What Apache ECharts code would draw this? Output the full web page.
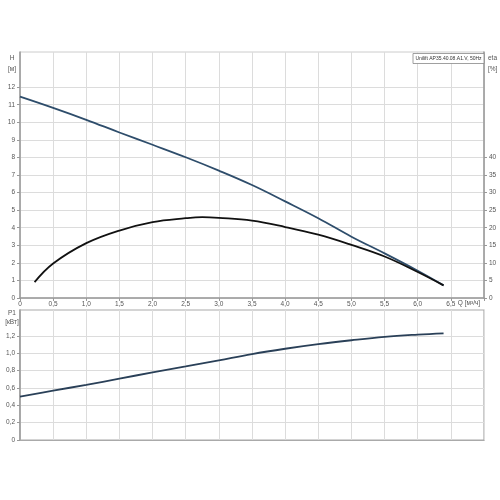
<!DOCTYPE html>
<html>
<head>
<meta charset="utf-8">
<script src="https://cdn.jsdelivr.net/npm/echarts@6/dist/echarts.min.js"></script>
<style>html,body{margin:0;padding:0;background:#fff}#c{width:500px;height:500px}</style>
</head>
<body>
<div id="c"></div>
<script>
// Q-H curve
var qH = [0, 0.5, 1.0, 1.5, 2.0, 2.5, 3.0, 3.5, 4.0, 4.5, 5.0, 5.5, 6.0, 6.39];
var hVals = [11.46, 10.82, 10.14, 9.42, 8.72, 8.01, 7.25, 6.43, 5.5, 4.54, 3.49, 2.54, 1.55, 0.72];
// efficiency curve
var qEta = [0.22, 0.5, 1.0, 1.5, 2.0, 2.5, 2.75, 3.0, 3.5, 4.0, 4.5, 5.0, 5.5, 6.0, 6.39];
var etaVals = [4.5, 9.8, 15.6, 19.2, 21.6, 22.7, 23.0, 22.8, 22.0, 20.2, 18.0, 15.1, 11.8, 7.4, 3.6];
// power curve
var qP = [0, 0.5, 1.0, 1.5, 2.0, 2.5, 3.0, 3.5, 4.0, 4.5, 5.0, 5.5, 6.0, 6.39];
var pVals = [0.50, 0.57, 0.636, 0.708, 0.78, 0.849, 0.92, 0.992, 1.053, 1.106, 1.151, 1.19, 1.216, 1.231];
// tick labels
var hTicks = [0, 1, 2, 3, 4, 5, 6, 7, 8, 9, 10, 11, 12];
var etaTicks = [0, 5, 10, 15, 20, 25, 30, 35, 40];
var pTicks = [0, 0.2, 0.4, 0.6, 0.8, 1.0, 1.2];
// texts
var titleText = 'Unilift AP35.40.08.A1.V, 50Hz';
var qLabel = 'Q [м³/ч]';
var hLabel = 'H\n[м]';
var etaLabel = 'eta\n[%]';
var pLabel = 'P1\n[кВт]';

function pairs(xs, ys){ return xs.map(function(x,i){ return [x, ys[i]]; }); }
function fmtComma(v){ return Math.abs(v) < 1e-9 ? '0' : v.toFixed(1).replace('.', ','); }

var FONT = 'Liberation Sans';
var lblColor = '#555';
var axisLineStyle = {color:'#999', width:1.5};
var gridLine = {show:true, lineStyle:{color:'#dcdcdc', width:1}};
var FS = 6.5;

var chart = echarts.init(document.getElementById('c'));
chart.setOption({
  animation:false,
  backgroundColor:'#fff',
  grid:[
    {left:20, right:16, top:52, height:246, show:true, borderColor:'#ccc', borderWidth:1},
    {left:20, right:16, top:310, height:130, show:true, borderColor:'#aaa', borderWidth:1.2}
  ],
  xAxis:[
    {gridIndex:0, type:'value', min:0, max:7, interval:0.5,
     axisLine:{show:true, onZero:false, lineStyle:axisLineStyle},
     axisTick:{show:true, length:3, lineStyle:{color:'#999'}},
     axisLabel:{fontSize:FS, color:lblColor, fontFamily:FONT, margin:3,
       formatter:function(v){ return v >= 7 ? '' : fmtComma(v); }},
     splitLine:gridLine},
    {gridIndex:1, type:'value', min:0, max:7, interval:0.5,
     axisLine:{show:true, onZero:false, lineStyle:{color:'#aaa', width:1.2}},
     axisTick:{show:false}, axisLabel:{show:false},
     splitLine:gridLine}
  ],
  yAxis:[
    {gridIndex:0, type:'value', min:0, max:14, interval:1,
     axisLine:{show:true, onZero:false, lineStyle:axisLineStyle},
     axisTick:{show:true, length:3, lineStyle:{color:'#999'}, customValues:hTicks},
     axisLabel:{fontSize:FS, color:lblColor, fontFamily:FONT, margin:5, customValues:hTicks,
       formatter:function(v){ return String(v); }},
     splitLine:gridLine},
    {gridIndex:0, type:'value', position:'right', min:0, max:70, interval:5,
     axisLine:{show:true, onZero:false, lineStyle:axisLineStyle},
     axisTick:{show:true, length:3, lineStyle:{color:'#999'}, customValues:etaTicks},
     axisLabel:{fontSize:FS, color:lblColor, fontFamily:FONT, margin:5, customValues:etaTicks,
       formatter:function(v){ return String(v); }},
     splitLine:{show:false}},
    {gridIndex:1, type:'value', min:0, max:1.5, interval:0.2,
     axisLine:{show:true, onZero:false, lineStyle:axisLineStyle},
     axisTick:{show:true, length:3, lineStyle:{color:'#999'}, customValues:pTicks},
     axisLabel:{fontSize:FS, color:lblColor, fontFamily:FONT, margin:5, customValues:pTicks,
       formatter:function(v){ return fmtComma(v); }},
     splitLine:gridLine}
  ],
  series:[
    {type:'line', xAxisIndex:0, yAxisIndex:0, data:pairs(qH, hVals), smooth:0.4,
     showSymbol:false, lineStyle:{color:'#2e4d6b', width:1.8}},
    {type:'line', xAxisIndex:0, yAxisIndex:1, data:pairs(qEta, etaVals), smooth:0.4,
     showSymbol:false, lineStyle:{color:'#111', width:1.8}},
    {type:'line', xAxisIndex:1, yAxisIndex:2, data:pairs(qP, pVals), smooth:0.4,
     showSymbol:false, lineStyle:{color:'#2a4058', width:1.8}}
  ],
  graphic:[
    {type:'rect', shape:{x:413, y:53.5, width:71, height:10},
     style:{fill:'#fff', stroke:'#888', lineWidth:0.8}, z:100},
    {type:'text', x:448.5, y:58.8, z:101,
     style:{text:titleText, font:'5px "Liberation Sans"', fill:'#333', align:'center', verticalAlign:'middle'}},
    {type:'text', x:12, y:53, z:101,
     style:{text:hLabel, font:'6.5px "Liberation Sans"', fill:lblColor, align:'center', verticalAlign:'top', lineHeight:11}},
    {type:'text', x:488, y:53, z:101,
     style:{text:etaLabel, font:'6.5px "Liberation Sans"', fill:lblColor, align:'left', verticalAlign:'top', lineHeight:11}},
    {type:'text', x:12, y:309, z:101,
     style:{text:pLabel, font:'6.5px "Liberation Sans"', fill:lblColor, align:'center', verticalAlign:'top', lineHeight:9}},
    {type:'text', x:469, y:303.5, z:101,
     style:{text:qLabel, font:'6.5px "Liberation Sans"', fill:lblColor, align:'center', verticalAlign:'middle'}}
  ]
});
</script>
</body>
</html>
